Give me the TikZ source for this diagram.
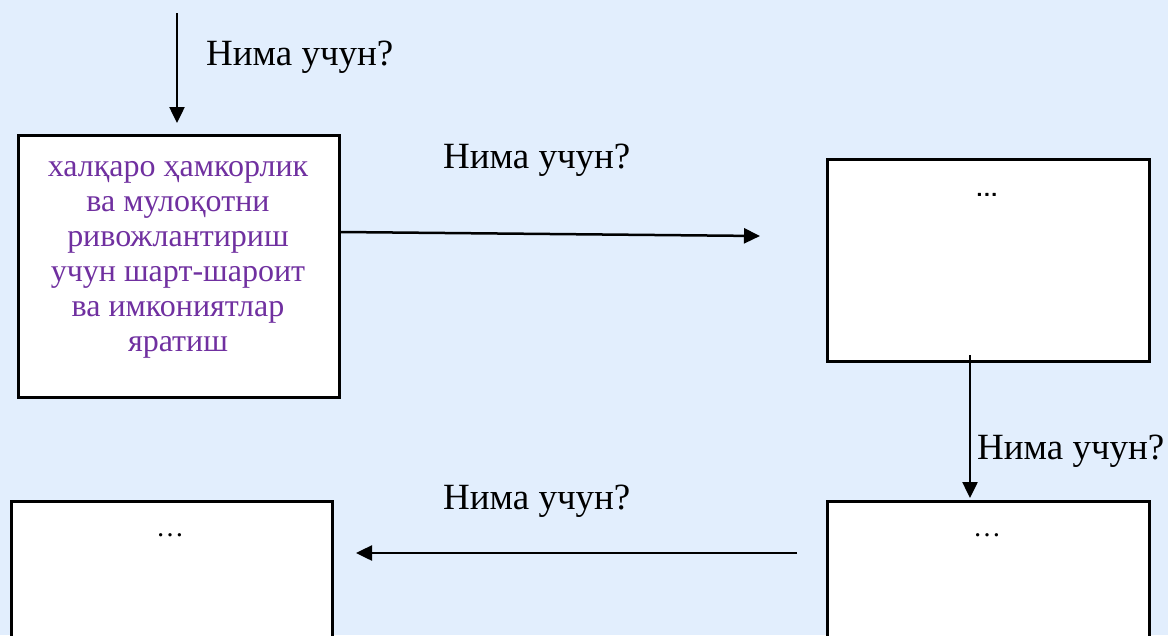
\documentclass[tikz,border=0pt]{standalone}
\usepackage{fontspec}
\setmainfont{Liberation Serif}
\usetikzlibrary{arrows.meta}
\definecolor{bgblue}{HTML}{E2EEFD}
\definecolor{txtpurple}{HTML}{7030A0}
\tikzset{
  boxnode/.style={draw=black, line width=2.5pt, fill=white, inner sep=0pt, anchor=north west},
  conn/.style={line width=2.5pt, -{Triangle[length=16pt,width=15pt]}},
  lbl/.style={font=\fontsize{37}{42}\selectfont, inner sep=0pt, anchor=west},
}
\begin{document}
\begin{tikzpicture}[x=1pt,y=-1pt]
\useasboundingbox (0,0) rectangle (1168,635);
\fill[bgblue] (0,0) rectangle (1168,635);
\begin{scope}
\clip (0,0) rectangle (1168,635);
% boxes
\node[boxnode, minimum width=321pt, minimum height=262pt] (b1) at (17,134) {};
\node[boxnode, minimum width=322pt, minimum height=202pt] (b2) at (826,158) {};
\node[boxnode, minimum width=322pt, minimum height=160pt] (b3) at (826,500) {};
\node[boxnode, minimum width=321pt, minimum height=160pt] (b4) at (10,500) {};
\end{scope}
% box texts
\node[text=txtpurple, align=center, font=\fontsize{32}{35}\selectfont, inner sep=0pt] (t1) at (178,260)
  {халқаро ҳамкорлик\\ва мулоқотни\\ривожлантириш\\учун шарт-шароит\\ва имкониятлар\\яратиш};
\node[font=\fontsize{24}{28}\sffamily\bfseries, inner sep=0pt] (t2) at (987,195) {...};
\node[font=\fontsize{28}{30}\selectfont, inner sep=0pt] (t3) at (987,535) {\dots};
\node[font=\fontsize{28}{30}\selectfont, inner sep=0pt] (t4) at (170,535) {\dots};
% connector coordinates
\coordinate (a1s) at (177,13);
\coordinate (a1e) at (177,123);
\coordinate (a2s) at (b1.east |- 0,232);
\coordinate (a2e) at (760,236);
\coordinate (a3s) at (970,355);
\coordinate (a3e) at (970,498);
\coordinate (a4s) at (797,553);
\coordinate (a4e) at (356,553);
\draw[conn] (a1s) -- (a1e);
\draw[conn] (a2s) -- (a2e);
\draw[conn] (a3s) -- (a3e);
\draw[conn] (a4s) -- (a4e);
% labels
\node[lbl] (l1) at (206,57) {Нима учун?};
\node[lbl] (l2) at (443,160) {Нима учун?};
\node[lbl] (l3) at (977,451) {Нима учун?};
\node[lbl] (l4) at (443,501) {Нима учун?};
\end{tikzpicture}
\end{document}
